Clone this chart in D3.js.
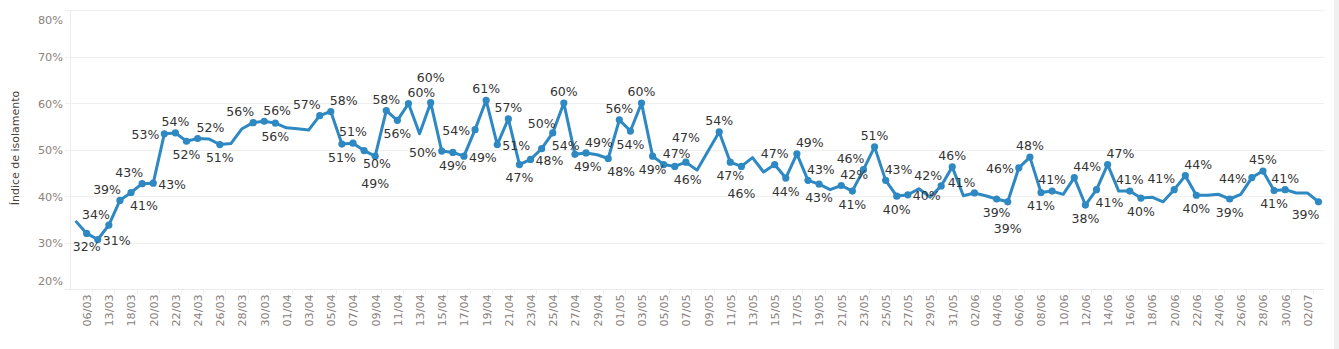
<!DOCTYPE html>
<html><head><meta charset="utf-8">
<script src="https://cdn.jsdelivr.net/npm/d3@7"></script>
<style>
html,body{margin:0;padding:0;background:#fff;}
svg{display:block;font-family:"DejaVu Sans",sans-serif;}
</style></head>
<body>
<svg id="chart" width="1339" height="349"></svg>
<script>
// ---- data ----
const dates = ["05/03","06/03","12/03","13/03","17/03","18/03","19/03",
"20/03","21/03","22/03","23/03","24/03","25/03","26/03","27/03","28/03","29/03","30/03","31/03",
"01/04","02/04","03/04","04/04","05/04","06/04","07/04","08/04","09/04","10/04","11/04","12/04","13/04","14/04","15/04",
"16/04","17/04","18/04","19/04","20/04","21/04","22/04","23/04","24/04","25/04","26/04","27/04","28/04","29/04","30/04",
"01/05","02/05","03/05","04/05","05/05","06/05","07/05","08/05","09/05","10/05","11/05","12/05","13/05","14/05","15/05",
"16/05","17/05","18/05","19/05","20/05","21/05","22/05","23/05","24/05","25/05","26/05","27/05","28/05","29/05","30/05","31/05",
"01/06","02/06","03/06","04/06","05/06","06/06","07/06","08/06","09/06","10/06","11/06","12/06","13/06","14/06","15/06",
"16/06","17/06","18/06","19/06","20/06","21/06","22/06","23/06","24/06","25/06","26/06","27/06","28/06","29/06","30/06",
"01/07","02/07","03/07"];

const isolamento = [
34.7, 32.0, 30.7, 33.8, 39.1, 40.8, 42.7, 42.8, 53.4, 53.6,
51.8, 52.4, 52.3, 51.1, 51.3, 54.5, 55.8, 56.1, 55.7, 54.7,
54.5, 54.2, 57.3, 58.2, 51.2, 51.4, 49.8, 48.6, 58.4, 56.3,
59.9, 53.4, 60.1, 49.7, 49.4, 48.6, 54.3, 60.6, 51.1, 56.6,
46.8, 47.9, 50.2, 53.6, 60.0, 49.0, 49.3, 48.9, 48.1, 56.4,
54.0, 60.0, 48.6, 46.8, 46.4, 47.3, 45.6, 49.7, 53.8, 47.3,
46.4, 48.3, 45.2, 46.8, 43.9, 49.1, 43.4, 42.6, 41.4, 42.3,
41.1, 45.7, 50.6, 43.4, 40.0, 40.3, 41.6, 39.8, 42.2, 46.3,
40.1, 40.7, 40.1, 39.4, 38.8, 46.1, 48.4, 40.8, 41.1, 40.4,
44.0, 38.1, 41.4, 46.8, 41.1, 41.1, 39.6, 39.8, 38.8, 41.4,
44.4, 40.2, 40.2, 40.4, 39.4, 40.4, 44.0, 45.4, 41.2, 41.4,
40.7, 40.7, 38.8];

// 1 = value label shown on that day
const showLabel = [
0,1,1,1,1,1,1,1,1,1,
1,1,0,1,0,0,1,1,1,0,
0,0,1,1,1,1,1,1,1,1,
1,0,1,1,1,1,1,1,1,1,
1,1,1,1,1,1,1,0,1,1,
1,1,1,1,1,1,0,0,1,1,
1,0,0,1,1,1,1,1,0,1,
1,1,1,1,1,1,0,0,1,1,
0,1,0,1,1,1,1,1,1,0,
1,1,1,1,0,1,1,0,0,1,
1,1,0,0,1,0,1,1,1,1,
0,0,1];

const xTickLabels = ["06/03","13/03","18/03","20/03","22/03","24/03","26/03","28/03","30/03",
"01/04","03/04","05/04","07/04","09/04","11/04","13/04","15/04","17/04","19/04","21/04","23/04","25/04","27/04","29/04",
"01/05","03/05","05/05","07/05","09/05","11/05","13/05","15/05","17/05","19/05","21/05","23/05","25/05","27/05","29/05","31/05",
"02/06","04/06","06/06","08/06","10/06","12/06","14/06","16/06","18/06","20/06","22/06","24/06","26/06","28/06","30/06",
"02/07"];
const yTicks = [20,30,40,50,60,70,80];
const yTitle = "Índice de isolamento";

// ---- chart ----
const svg = d3.select("#chart");
const L = 70, R = 1324, T = 10, B = 289.3;
const x = d3.scalePoint().domain(dates).range([L, R]).padding(0.5);
const y = d3.scaleLinear().domain([20, 80]).range([B, T]);
const step = x.step();
const data = dates.map((d, i) => ({d, v: isolamento[i], lab: showLabel[i] === 1}));

// right scroll strip
svg.append("rect").attr("x", 1334).attr("y", 0).attr("width", 5).attr("height", 349).attr("fill", "#f0f0f0");

// gridlines
svg.append("g").selectAll("line").data(yTicks.filter(t => t > 20)).join("line")
  .attr("x1", 65).attr("x2", R).attr("y1", d => Math.round(y(d)) + 0.5).attr("y2", d => Math.round(y(d)) + 0.5)
  .attr("stroke", "#efefef").attr("stroke-width", 1);
// axes lines
svg.append("line").attr("x1", L + 0.5).attr("x2", L + 0.5).attr("y1", T).attr("y2", B)
  .attr("stroke", "#ececec");
svg.append("line").attr("x1", 65).attr("x2", R).attr("y1", Math.round(B) + 0.5).attr("y2", Math.round(B) + 0.5)
  .attr("stroke", "#ececec");

// y axis via d3 axis
const yAxis = d3.axisLeft(y).tickValues(yTicks).tickFormat(d => d + "%").tickSize(0).tickPadding(0);
const gy = svg.append("g").attr("transform", `translate(63,0)`).call(yAxis);
gy.select(".domain").remove();
gy.selectAll("text").attr("fill", "#8a827d").attr("font-size", 11.3).attr("font-family", "DejaVu Sans")
  .attr("dy", d => d === 80 ? "1.2em" : d === 20 ? "-0.4em" : "0.35em");

// x axis via d3 axis
const xAxis = d3.axisBottom(x).tickValues(dates.filter(d => xTickLabels.includes(d))).tickSize(0).tickPadding(0);
const gx = svg.append("g").attr("transform", `translate(0,${B})`).call(xAxis);
gx.select(".domain").remove();
gx.selectAll("text").attr("fill", "#8a827d").attr("font-size", 11.2).attr("font-family", "DejaVu Sans")
  .attr("text-anchor", "end").attr("transform", "rotate(-90)")
  .attr("x", -5).attr("y", 0).attr("dy", "0.35em");

// small separators below axis
svg.append("g").selectAll("line").data(dates.filter((d, i) => i % 2 === 1 && i < dates.length - 1)).join("line")
  .attr("x1", d => Math.round(x(d) + step / 2) + 0.5).attr("x2", d => Math.round(x(d) + step / 2) + 0.5)
  .attr("y1", B).attr("y2", B + 5).attr("stroke", "#efefef");

// y title
svg.append("text").attr("transform", `translate(19,${148}) rotate(-90)`)
  .attr("text-anchor", "middle").attr("font-size", 11).attr("fill", "#4a3f3a").text(yTitle);

// line
const color = "#2e88c2";
svg.append("path").datum(data)
  .attr("d", d3.line().x(d => x(d.d)).y(d => y(d.v)))
  .attr("fill", "none").attr("stroke", color).attr("stroke-width", 3).attr("stroke-linejoin", "round");
svg.append("g").selectAll("circle").data(data.filter(d => d.lab)).join("circle")
  .attr("cx", d => x(d.d)).attr("cy", d => y(d.v)).attr("r", 3.6).attr("fill", color);

// ---- value labels: greedy placement + best-response refinement ----
const pts = data.map(d => [x(d.d), y(d.v)]);
const samples = [];
for (let i = 0; i < pts.length - 1; i++) {
  const [x1, y1] = pts[i], [x2, y2] = pts[i + 1];
  const n = Math.ceil(Math.hypot(x2 - x1, y2 - y1));
  for (let k = 0; k <= n; k++) samples.push([x1 + (x2 - x1) * k / n, y1 + (y2 - y1) * k / n]);
}
const FS = 12.5, H = 9.2;
const lg = svg.append("g").attr("font-size", FS).attr("fill", "#333");
function lineHits(r) {
  let c = 0;
  for (const [px, py] of samples) if (px > r.x0 - 1.5 && px < r.x1 + 1.5 && py > r.y0 - 1.5 && py < r.y1 + 1.5) c++;
  return c;
}
// full text box (ascent/descent) used for label-label overlap
function labelOverlap(r, others) {
  let a = 0;
  for (const p of others) {
    if (!p) continue;
    const ox = Math.min(r.x1 + 0.5, p.x1) - Math.max(r.x0 - 0.5, p.x0);
    const oy = Math.min(r.y1 + 3, p.y1 + 3) - Math.max(r.y0 - 2.4, p.y0 - 2.4);
    if (ox > 0 && oy > 0) a += ox * oy + 5;
  }
  return a;
}
const items = [];
data.forEach((d, i) => {
  if (!d.lab) return;
  const [px, py] = pts[i];
  const t = lg.append("text").text(Math.round(d.v) + "%");
  const w = t.node().getComputedTextLength();
  const prev = i > 0 ? pts[i - 1][1] : py, next = i < pts.length - 1 ? pts[i + 1][1] : py;
  const peak = py <= prev && py <= next, trough = py >= prev && py >= next;
  const cand = {
    above: [px, py - 11.5],
    below: [px, py + 13],
    left: [px - 5 - w / 2, py + 1],
    right: [px + 5 + w / 2, py + 1],
    aboveLeft: [px - w / 2 + 1, py - 11],
    aboveRight: [px + w / 2 - 1, py - 11],
    belowLeft: [px - w / 2 + 1, py + 12.5],
    belowRight: [px + w / 2 - 1, py + 12.5],
    farAbove: [px, py - 25],
    farBelow: [px, py + 27]
  };
  let order;
  if (peak) order = ["above", "aboveLeft", "aboveRight", "left", "right", "below", "belowLeft", "belowRight", "farAbove", "farBelow"];
  else if (trough) order = ["below", "belowLeft", "belowRight", "left", "right", "above", "aboveLeft", "aboveRight", "farBelow", "farAbove"];
  else if (prev < py) order = ["left", "below", "belowLeft", "right", "aboveRight", "belowRight", "above", "aboveLeft", "farBelow", "farAbove"];
  else order = ["left", "aboveLeft", "belowRight", "right", "above", "below", "belowLeft", "aboveRight", "farAbove", "farBelow"];
  const boxes = order.map((k, oi) => {
    const [cx, cy] = cand[k];
    const r = {x0: cx - w / 2, x1: cx + w / 2, y0: cy - H / 2, y1: cy + H / 2};
    const out = Math.max(0, L - r.x0) + Math.max(0, r.x1 - R);
    r.base = lineHits(r) * 0.6 + oi * 2.5 + out * 3;
    return r;
  });
  items.push({t, boxes, box: null});
});
function bestFor(it) {
  const others = items.filter(o => o !== it).map(o => o.box);
  let best = null, bs = Infinity;
  for (const r of it.boxes) {
    const s = labelOverlap(r, others) * 20 + r.base;
    if (s < bs) { bs = s; best = r; }
  }
  return best;
}
items.forEach(it => { it.box = bestFor(it); });
for (let pass = 0; pass < 6; pass++) items.forEach(it => { it.box = bestFor(it); });
items.forEach(it => it.t.attr("x", it.box.x0).attr("y", it.box.y1));
</script>
</body></html>
